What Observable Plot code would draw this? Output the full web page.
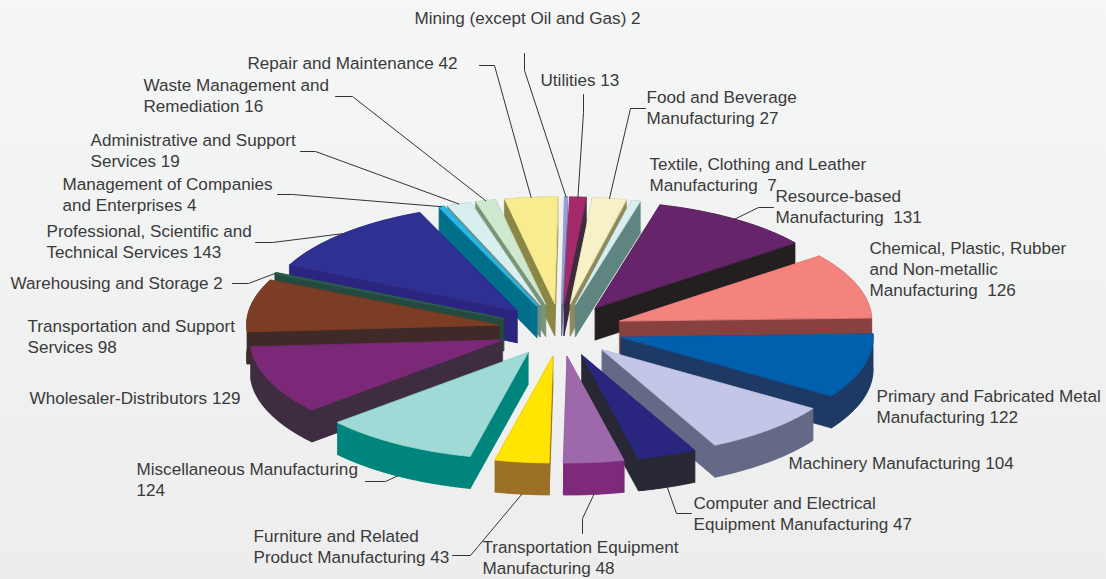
<!DOCTYPE html>
<html>
<head>
<meta charset="utf-8">
<script src="https://cdn.jsdelivr.net/npm/d3@7"></script>
<script src="https://cdn.jsdelivr.net/npm/@observablehq/plot@0.6"></script>
<style>
  html, body { margin: 0; padding: 0; }
  body { width: 1106px; height: 579px; overflow: hidden;
         background: linear-gradient(180deg, #f5f6f6 0%, #f1f2f2 45%, #ededed 100%); }
  svg { display: block; background: transparent !important; }
</style>
</head>
<body>
<div id="chart"></div>
<script>
// ---- data: clockwise from the top of the pie
const categories = [
  "Utilities", "Food and Beverage Manufacturing", "Textile, Clothing and Leather Manufacturing",
  "Resource-based Manufacturing", "Chemical, Plastic, Rubber and Non-metallic Manufacturing",
  "Primary and Fabricated Metal Manufacturing", "Machinery Manufacturing",
  "Computer and Electrical Equipment Manufacturing", "Transportation Equipment Manufacturing",
  "Furniture and Related Product Manufacturing", "Miscellaneous Manufacturing",
  "Wholesaler-Distributors", "Transportation and Support Services", "Warehousing and Storage",
  "Professional, Scientific and Technical Services", "Management of Companies and Enterprises",
  "Administrative and Support Services", "Waste Management and Remediation",
  "Repair and Maintenance", "Mining (except Oil and Gas)"
];
const values = [13, 27, 7, 131, 126, 122, 104, 47, 48, 43, 124, 129, 98, 2, 143, 4, 19, 16, 42, 2];
const labelTexts = [
  "Utilities 13", "Food and Beverage\nManufacturing 27", "Textile, Clothing and Leather\nManufacturing\u00a0\u00a07",
  "Resource-based\nManufacturing\u00a0\u00a0131", "Chemical, Plastic, Rubber\nand Non-metallic\nManufacturing\u00a0\u00a0126",
  "Primary and Fabricated Metal\nManufacturing 122", "Machinery Manufacturing 104",
  "Computer and Electrical\nEquipment Manufacturing 47", "Transportation Equipment\nManufacturing 48",
  "Furniture and Related\nProduct Manufacturing 43", "Miscellaneous Manufacturing\n124",
  "Wholesaler-Distributors 129", "Transportation and Support\nServices 98", "Warehousing and Storage 2",
  "Professional, Scientific and\nTechnical Services 143", "Management of Companies\nand Enterprises 4",
  "Administrative and Support\nServices 19", "Waste Management and\nRemediation 16",
  "Repair and Maintenance 42", "Mining (except Oil and Gas) 2"
];
const topColors = [
  "#a52a6c", "#f6f1c6", "#d8eff0", "#66246a", "#f4837d", "#0060ae", "#c3c6e6", "#2a2680", "#9e69ab", "#ffe500",
  "#a0dad6", "#7c2878", "#7d3d24", "#2a5a4e", "#2e3192", "#29b6e6", "#d8eff0", "#cfe8d0", "#f9ec8f", "#9a9fd4"
];
const wallColors = [
  "#3e2a3c", "#8f8a5c", "#5f8580", "#231f20", "#874240", "#1e3a64", "#646985", "#272833", "#7d2a7a", "#9c7026",
  "#00857d", "#3e2d40", "#3f2a29", "#24493f", "#2b2580", "#006f8a", "#6d8d86", "#7a9478", "#8a8646", "#6a6da0"
];

// ---- layout (not data): pie geometry and label placement, in px
const pie = {cx: 560, cy: 329.5, rx: 252, ry: 106.5, depth: 32, explode: 0.25, rotate: 0.4, backShift: 0.9};
const labelPos = [
  [540, 70], [646, 87], [649, 154], [775, 186], [869, 238], [876, 386], [788, 453], [693, 493], [482, 537], [253, 526],
  [136, 459], [29, 388], [27, 316], [10, 273], [46, 221], [62, 174], [90, 130], [143, 75], [247, 53], [414, 8]
];
// leader lines: [end of line near the text, elbow]; null = no leader
const leaders = [
  [[583, 94], [583, 112]], [[645, 108], [630, 108]], null, [[773, 207], [758, 207]], null, null, null,
  [[691, 513], [676, 513]], [[582, 533], [582, 518]], [[452, 555], [470, 555]],
  [[365, 481], [385, 481]], null, null, [[232, 283], [248, 283]], [[255, 242], [272, 242]],
  [[277, 194], [292, 194]], [[300, 151], [315, 151]], [[335, 96], [352, 96]], [[479, 65], [494, 65]],
  [[524, 53], [524, 70]]
];

// ---- geometry of each wedge, derived from the values
const total = d3.sum(values);
const toRad = Math.PI / 180;
// the drawing's slight perspective nudges the back of the pie clockwise
const place = a => a + pie.rotate + pie.backShift * Math.max(0, Math.cos(a * toRad));
let cumulative = 0;
const slices = values.map((v, i) => {
  const a0 = place(cumulative / total * 360);
  cumulative += v;
  const a1 = place(cumulative / total * 360);
  return {i, a0, a1, mid: (a0 + a1) / 2};
});
const ux = a => pie.rx * Math.sin(a * toRad);
const uy = a => -pie.ry * Math.cos(a * toRad);
function apex(s) { return [pie.cx + pie.explode * ux(s.mid), pie.cy + pie.explode * uy(s.mid)]; }
function arcPts(s) {
  const [ax, ay] = apex(s), pts = [], n = Math.max(2, Math.ceil(s.a1 - s.a0) + 1);
  for (let k = 0; k < n; k++) {
    const a = s.a0 + (s.a1 - s.a0) * k / (n - 1);
    pts.push([ax + ux(a), ay + uy(a)]);
  }
  return pts;
}
const down = p => [p[0], p[1] + pie.depth];

const poly = (id, pts) => pts.map(p => ({id, x: p[0], y: p[1]}));
function wallRows(s) {
  const A = apex(s), arc = arcPts(s), first = arc[0], last = arc[arc.length - 1];
  return [
    ...poly("start", [A, first, down(first), down(A)]),
    ...poly("end", [A, last, down(last), down(A)]),
    ...poly("outer", [...arc, ...arc.map(down).reverse()]),
    ...poly("bottom", [down(A), ...arc.map(down)])
  ];
}
function topRows(s) { return poly("top", [apex(s), ...arcPts(s)]); }

// back to front: farthest from the bottom of the pie is painted first
const dist = a => Math.abs(((a - 180 + 540) % 360) - 180);
const painted = [...slices].sort((p, q) => dist(q.mid) - dist(p.mid));

const sliceMarks = painted.flatMap(s => [
  Plot.line(wallRows(s), {x: "x", y: "y", z: "id", curve: "linear-closed",
    fill: wallColors[s.i], stroke: wallColors[s.i], strokeWidth: 0.5}),
  Plot.line(topRows(s), {x: "x", y: "y", z: "id", curve: "linear-closed",
    fill: topColors[s.i], stroke: topColors[s.i], strokeWidth: values[s.i] <= 4 ? 1.6 : 0.8})
]);

// leader lines start at the wedge's rim, at its middle angle
const leaderRows = slices.flatMap(s => {
  const l = leaders[s.i];
  if (!l) return [];
  const A = apex(s);
  let rim = [A[0] + ux(s.mid), A[1] + uy(s.mid)];
  if (s.mid > 90 && s.mid < 270) rim = down(rim);
  return poly(categories[s.i], [l[0], l[1], rim]);
});

const labelRows = categories.map((c, i) => ({
  text: labelTexts[i], x: labelPos[i][0], y: labelPos[i][1]
}));

const chart = Plot.plot({
  width: 1106, height: 579,
  margin: 0,
  x: {domain: [0, 1106], range: [0, 1106], axis: null},
  y: {domain: [0, 579], range: [0, 579], axis: null},
  style: {background: "transparent"},
  marks: [
    ...sliceMarks,
    Plot.line(leaderRows, {x: "x", y: "y", z: "id", stroke: "#333333", strokeWidth: 1}),
    Plot.text(labelRows, {
      x: "x", y: "y", text: "text", textAnchor: "start", lineAnchor: "top",
      fontSize: 17.1, lineHeight: 1.25, fill: "#3a3a3a",
      fontFamily: "'Liberation Sans', Arial, sans-serif"
    })
  ]
});
document.getElementById("chart").appendChild(chart);
</script>
</body>
</html>
